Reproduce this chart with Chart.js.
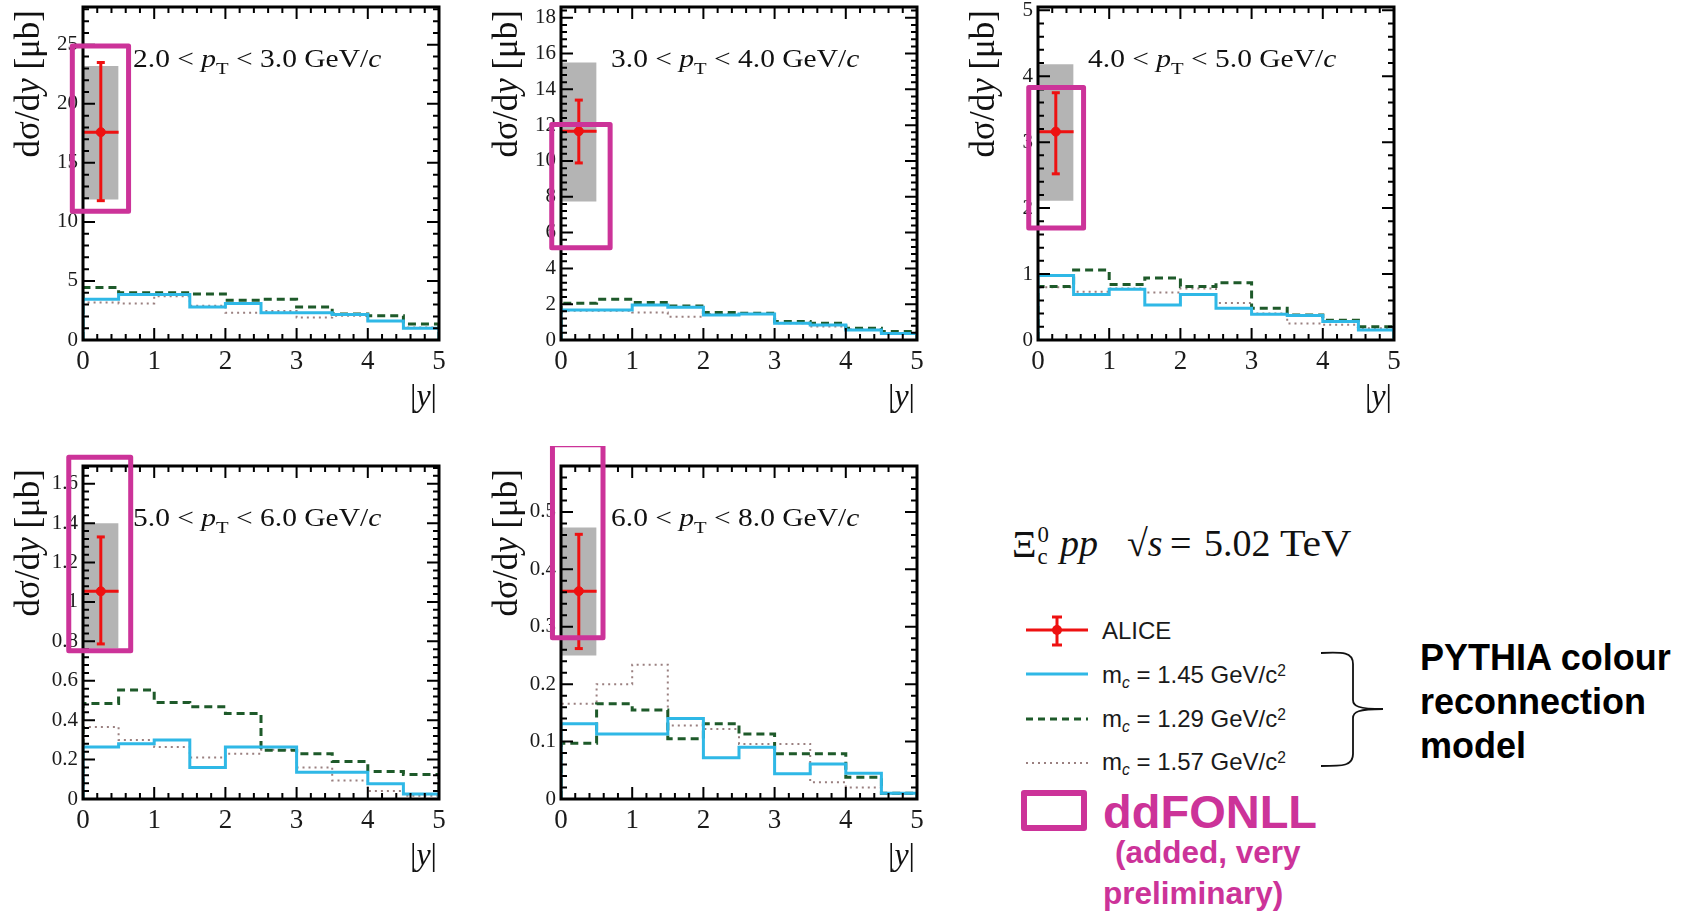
<!DOCTYPE html>
<html>
<head>
<meta charset="utf-8">
<script src="https://cdn.jsdelivr.net/npm/chart.js@4.4.1/dist/chart.umd.min.js"></script>
<style>
  body { margin: 0; width: 1695px; height: 914px; overflow: hidden; background: #fff; position: relative; }
  canvas.panel { position: absolute; }
  .leg { position: absolute; white-space: nowrap; }
  .serif { font-family: "Liberation Serif", "Times New Roman", serif; color: #111; font-size: 38px; line-height: 38px; }
  .sans { font-family: "Liberation Sans", Arial, sans-serif; }
  .entry { font-size: 24px; line-height: 24px; color: #1a1a1a; }
  .sub { font-size: 0.65em; position: relative; top: 0.3em; font-style: italic; }
  .sup { font-size: 0.65em; position: relative; top: -0.45em; }
  .pink { color: #cc3399; font-weight: bold; }
</style>
</head>
<body>

<canvas class="panel" id="c0" width="480" height="460"></canvas>
<canvas class="panel" id="c1" width="480" height="460"></canvas>
<canvas class="panel" id="c2" width="480" height="460"></canvas>
<canvas class="panel" id="c3" width="480" height="460"></canvas>
<canvas class="panel" id="c4" width="480" height="460"></canvas>

<!-- legend block -->
<div class="leg serif" style="left:1012px; top:524px;">Ξ<span style="display:inline-block; vertical-align:-0.3em; font-size:0.6em; line-height:0.95; margin-left:1px;"><span style="display:block">0</span><span style="display:block">c</span></span></div>
<div class="leg serif" style="left:1060px; top:524px;"><i>pp</i></div>
<div class="leg serif" style="left:1127px; top:524px;">√<i>s</i></div>
<div class="leg serif" style="left:1170px; top:524px;">=</div>
<div class="leg serif" style="left:1204px; top:524px;">5.02</div>
<div class="leg serif" style="left:1280px; top:524px; transform:scaleX(1.1); transform-origin:0 0;">TeV</div>

<svg class="leg" style="left:1024px; top:614px;" width="66" height="34">
  <line x1="2" y1="16" x2="64" y2="16" stroke="#ee1111" stroke-width="3"/>
  <line x1="33" y1="3" x2="33" y2="31" stroke="#ee1111" stroke-width="3"/>
  <line x1="28" y1="3" x2="38" y2="3" stroke="#ee1111" stroke-width="3"/>
  <line x1="28" y1="31" x2="38" y2="31" stroke="#ee1111" stroke-width="3"/>
  <circle cx="33" cy="16" r="5" fill="#ee1111"/>
</svg>
<div class="leg sans entry" style="left:1102px; top:619px;">ALICE</div>

<svg class="leg" style="left:1024px; top:664px;" width="66" height="104">
  <line x1="2" y1="10" x2="64" y2="10" stroke="#2fb8e6" stroke-width="3"/>
  <line x1="2" y1="55" x2="64" y2="55" stroke="#1e5a2a" stroke-width="3" stroke-dasharray="7 5"/>
  <line x1="2" y1="99" x2="64" y2="99" stroke="#9a8080" stroke-width="2" stroke-dasharray="2 4"/>
</svg>
<div class="leg sans entry" style="left:1102px; top:663px;">m<span class="sub">c</span> = 1.45 GeV/c<span class="sup">2</span></div>
<div class="leg sans entry" style="left:1102px; top:707px;">m<span class="sub">c</span> = 1.29 GeV/c<span class="sup">2</span></div>
<div class="leg sans entry" style="left:1102px; top:750px;">m<span class="sub">c</span> = 1.57 GeV/c<span class="sup">2</span></div>

<svg class="leg" style="left:1318px; top:648px;" width="70" height="124">
  <path d="M3,5 C25,4 35,4 35,16 L35,52 C35,58 40,61 65,61 C40,61 35,64 35,70 L35,106 C35,118 25,118 3,118" fill="none" stroke="#111" stroke-width="1.8"/>
</svg>
<div class="leg sans" style="left:1420px; top:636px; font-size:36px; line-height:44px; font-weight:bold; color:#000;">PYTHIA colour<br>reconnection<br>model</div>

<div class="leg" style="left:1021px; top:790px; width:54px; height:29px; border:6px solid #cc3399; border-radius:3px;"></div>
<div class="leg sans pink" style="left:1103px; top:788px; font-size:47px; line-height:47px;">ddFONLL</div>
<div class="leg sans pink" style="left:1115px; top:837px; font-size:31.5px; line-height:31.5px;">(added, very</div>
<div class="leg sans pink" style="left:1103px; top:878px; font-size:31.5px; line-height:31.5px;">preliminary)</div>

<script>
// |y| bin edges shared by all panels
var binEdges = [0, 0.5, 1, 1.5, 2, 2.5, 3, 3.5, 4, 4.5, 5];
// pT intervals (GeV/c) of the five panels
var ptBins = [[2, 3], [3, 4], [4, 5], [5, 6], [6, 8]];

// y axis of each panel
var yMax = [28.2, 18.6, 5.05, 1.69, 0.58];
var yMajor = [5, 2, 1, 0.2, 0.1];
var yMinor = [1, 0.4, 0.2, 0.04, 0.02];

// PYTHIA colour reconnection, one row per pT bin, one value per |y| bin
var pythia145 = [
  [3.45, 3.85, 3.85, 2.8, 3.1, 2.3, 2.3, 2.15, 1.6, 1.0],
  [1.68, 1.68, 1.96, 1.83, 1.4, 1.45, 0.93, 0.84, 0.56, 0.37],
  [0.98, 0.69, 0.77, 0.53, 0.69, 0.48, 0.39, 0.37, 0.28, 0.15],
  [0.264, 0.28, 0.30, 0.16, 0.264, 0.264, 0.136, 0.136, 0.077, 0.026],
  [0.131, 0.113, 0.113, 0.14, 0.072, 0.09, 0.044, 0.061, 0.045, 0.01]
];
var pythia129 = [
  [4.45, 4.0, 4.0, 3.9, 3.37, 3.45, 2.8, 2.2, 2.05, 1.35],
  [2.05, 2.28, 2.09, 1.9, 1.53, 1.5, 1.03, 0.93, 0.65, 0.47],
  [0.81, 1.06, 0.84, 0.94, 0.81, 0.87, 0.48, 0.38, 0.30, 0.20],
  [0.485, 0.553, 0.49, 0.468, 0.434, 0.247, 0.23, 0.19, 0.14, 0.124],
  [0.097, 0.166, 0.155, 0.105, 0.131, 0.113, 0.079, 0.079, 0.038, 0.01]
];
var pythia157 = [
  [3.17, 3.1, 3.7, 2.9, 2.3, 2.45, 1.9, 2.05, 1.6, 1.05],
  [1.64, 1.64, 1.53, 1.3, 1.45, 1.45, 0.93, 0.75, 0.6, 0.37],
  [0.8, 0.73, 0.78, 0.72, 0.78, 0.56, 0.4, 0.25, 0.23, 0.18],
  [0.366, 0.30, 0.264, 0.21, 0.23, 0.25, 0.16, 0.094, 0.04, 0.017],
  [0.166, 0.2, 0.234, 0.128, 0.122, 0.096, 0.096, 0.029, 0.02, 0.009]
];

// ALICE measurement in 0 < |y| < 0.5
var aliceY = [17.6, 11.66, 3.16, 1.054, 0.362];
var aliceStatLo = [11.8, 9.89, 2.52, 0.787, 0.262];
var aliceStatHi = [23.5, 13.4, 3.75, 1.33, 0.461];
var aliceSysLo = [11.9, 7.74, 2.11, 0.765, 0.25];
var aliceSysHi = [23.2, 15.5, 4.18, 1.40, 0.473];

// ddFONLL boxes (hand drawn on top)
var ddfonllLo = [10.9, 5.15, 1.70, 0.752, 0.281];
var ddfonllHi = [24.9, 12.03, 3.83, 1.734, 0.617];
var ddfonllXLo = [-0.15, -0.13, -0.13, -0.20, -0.12];
var ddfonllXHi = [0.64, 0.69, 0.64, 0.67, 0.59];

var red = "#ee1111";
var cyan = "#2fb8e6";
var green = "#1e5a2a";
var dotGray = "#9a8080";
var sysGray = "#b4b4b4";
var magenta = "#cc3399";

// where each frame sits on the page
var areaLeft = [83, 561, 1038, 83, 561];
var areaTop = [7, 7, 7, 466, 466];

function histPoints(vals) {
  var last = binEdges[binEdges.length - 1];
  var pts = [{x: binEdges[0], y: 0}];
  vals.forEach(function (v, i) {
    pts.push({x: binEdges[i], y: v});
  });
  pts.push({x: last, y: vals[vals.length - 1]});
  pts.push({x: last, y: 0});
  return pts;
}

function drawRich(ctx, parts, x, y, size, sx) {
  ctx.save();
  ctx.translate(x, y);
  ctx.scale(sx, 1);
  var cx = 0;
  parts.forEach(function (p) {
    ctx.font = (p.italic ? "italic " : "") + size * (p.scale || 1) + "px 'Liberation Serif'";
    ctx.fillText(p.text, cx, p.dy || 0);
    cx += ctx.measureText(p.text).width;
  });
  ctx.restore();
  return cx * sx;
}

function drawFrame(chart) {
  var o = chart.options.plugins.rootFrame;
  var ctx = chart.ctx, a = chart.chartArea;
  var xs = chart.scales.x, ys = chart.scales.y;
  ctx.save();
  ctx.strokeStyle = "#000";
  ctx.lineWidth = 2;
  ctx.beginPath();
  var nx = Math.round((xs.max - xs.min) / o.xMinor);
  var xEvery = Math.round(o.xMajor / o.xMinor);
  for (var k = 0; k <= nx; k++) {
    var px = xs.getPixelForValue(xs.min + k * o.xMinor);
    var len = k % xEvery === 0 ? 12 : 6;
    ctx.moveTo(px, a.bottom); ctx.lineTo(px, a.bottom - len);
    ctx.moveTo(px, a.top); ctx.lineTo(px, a.top + len);
  }
  var ny = Math.floor(ys.max / o.yMinor + 1e-6);
  var yEvery = Math.round(o.yMajor / o.yMinor);
  for (k = 0; k <= ny; k++) {
    var py = ys.getPixelForValue(k * o.yMinor);
    len = k % yEvery === 0 ? 12 : 6;
    ctx.moveTo(a.left, py); ctx.lineTo(a.left + len, py);
    ctx.moveTo(a.right, py); ctx.lineTo(a.right - len, py);
  }
  ctx.stroke();
  ctx.lineWidth = 3;
  ctx.strokeRect(a.left, a.top, a.right - a.left, a.bottom - a.top);

  ctx.fillStyle = "#111";
  ctx.textBaseline = "alphabetic";
  // pT interval label
  drawRich(ctx, [
    {text: o.ptLo.toFixed(1) + " < "},
    {text: "p", italic: true},
    {text: "T", scale: 0.7, dy: 7},
    {text: " < " + o.ptHi.toFixed(1) + " GeV/"},
    {text: "c", italic: true}
  ], a.left + 50, a.top + 60, 25, 1.18);

  // x title |y|, right aligned
  ctx.font = "32px 'Liberation Serif'";
  var w1 = ctx.measureText("|").width;
  ctx.font = "italic 32px 'Liberation Serif'";
  var w2 = ctx.measureText("y").width;
  drawRich(ctx, [{text: "|"}, {text: "y", italic: true}, {text: "|"}],
    a.right - 2 - (2 * w1 + w2), a.bottom + 66, 32, 1);

  // y title, rotated, aligned to the top
  ctx.save();
  ctx.translate(a.left - 44, a.top + 3);
  ctx.rotate(-Math.PI / 2);
  ctx.font = "35px 'Liberation Serif'";
  var t1 = "dσ/d", t3 = " [μb]";
  var wa = ctx.measureText(t1).width + ctx.measureText(t3).width;
  ctx.font = "italic 35px 'Liberation Serif'";
  wa += ctx.measureText("y").width;
  drawRich(ctx, [{text: t1}, {text: "y", italic: true}, {text: t3}], -wa, 0, 35, 1);
  ctx.restore();
  ctx.restore();
}

var rootFrame = {
  id: "rootFrame",
  afterDatasetDraw: function (chart, args) {
    if (chart.data.datasets[args.index].frameAfter) {
      drawFrame(chart);
    }
  }
};

function makePanel(i) {
  var canvas = document.getElementById("c" + i);
  canvas.style.left = (areaLeft[i] - 83) + "px";
  canvas.style.top = (areaTop[i] - 20) + "px";

  var xc = (binEdges[0] + binEdges[1]) / 2;
  var datasets = [
    {
      label: "ddFONLL",
      data: [
        {x: ddfonllXLo[i], y: ddfonllLo[i]}, {x: ddfonllXHi[i], y: ddfonllLo[i]},
        {x: ddfonllXHi[i], y: ddfonllHi[i]}, {x: ddfonllXLo[i], y: ddfonllHi[i]},
        {x: ddfonllXLo[i], y: ddfonllLo[i]}
      ],
      borderColor: magenta, borderWidth: 5, borderJoinStyle: "round",
      pointRadius: 0, clip: false, order: 0
    },
    {
      label: "ALICE",
      data: [{x: xc, y: aliceY[i]}],
      showLine: false, pointRadius: 4.5, pointBackgroundColor: red, pointBorderColor: red,
      order: 1, frameAfter: true
    },
    {
      label: "stat",
      data: [{x: xc, y: aliceStatLo[i]}, {x: xc, y: aliceStatHi[i]}],
      borderColor: red, borderWidth: 3, pointStyle: "line", pointRadius: 4,
      pointBorderColor: red, pointBorderWidth: 3, order: 2
    },
    {
      label: "xerr",
      data: [{x: binEdges[0], y: aliceY[i]}, {x: binEdges[1], y: aliceY[i]}],
      borderColor: red, borderWidth: 3, pointRadius: 0, order: 3
    },
    {
      label: "mc 1.45",
      data: histPoints(pythia145[i]), stepped: true,
      borderColor: cyan, borderWidth: 3, pointRadius: 0, order: 4
    },
    {
      label: "mc 1.29",
      data: histPoints(pythia129[i]), stepped: true,
      borderColor: green, borderWidth: 3, borderDash: [8, 5], pointRadius: 0, order: 5
    },
    {
      label: "mc 1.57",
      data: histPoints(pythia157[i]), stepped: true,
      borderColor: dotGray, borderWidth: 2, borderDash: [2, 4], pointRadius: 0, order: 6
    },
    {
      label: "sys hi",
      data: [{x: binEdges[0], y: aliceSysHi[i]}, {x: binEdges[1], y: aliceSysHi[i]}],
      borderWidth: 0, pointRadius: 0, fill: "+1", backgroundColor: sysGray, order: 7
    },
    {
      label: "sys lo",
      data: [{x: binEdges[0], y: aliceSysLo[i]}, {x: binEdges[1], y: aliceSysLo[i]}],
      borderWidth: 0, pointRadius: 0, order: 8
    }
  ];

  return new Chart(canvas, {
    type: "line",
    data: {datasets: datasets},
    plugins: [rootFrame],
    options: {
      responsive: false,
      animation: false,
      events: [],
      layout: {padding: {left: 0, top: 20, right: 41, bottom: 47}},
      plugins: {
        legend: {display: false},
        tooltip: {enabled: false},
        rootFrame: {
          xMajor: 1, xMinor: 0.2, yMajor: yMajor[i], yMinor: yMinor[i],
          ptLo: ptBins[i][0], ptHi: ptBins[i][1]
        }
      },
      scales: {
        x: {
          type: "linear", min: 0, max: 5,
          grid: {display: false, drawTicks: false},
          border: {display: false},
          ticks: {
            stepSize: 1, padding: 6, autoSkip: false, maxRotation: 0,
            color: "#1a1a1a", font: {family: "Liberation Serif", size: 27}
          },
          afterFit: function (s) { s.height = 60; }
        },
        y: {
          type: "linear", min: 0, max: yMax[i],
          grid: {display: false, drawTicks: false},
          border: {display: false},
          ticks: {
            stepSize: yMajor[i], includeBounds: false, padding: 5, autoSkip: false,
            color: "#1a1a1a", font: {family: "Liberation Serif", size: 21},
            callback: function (v) { return String(+v.toFixed(3)); }
          },
          afterFit: function (s) { s.width = 83; }
        }
      }
    }
  });
}

for (var p = 0; p < 5; p++) {
  makePanel(p);
}
</script>
</body>
</html>
